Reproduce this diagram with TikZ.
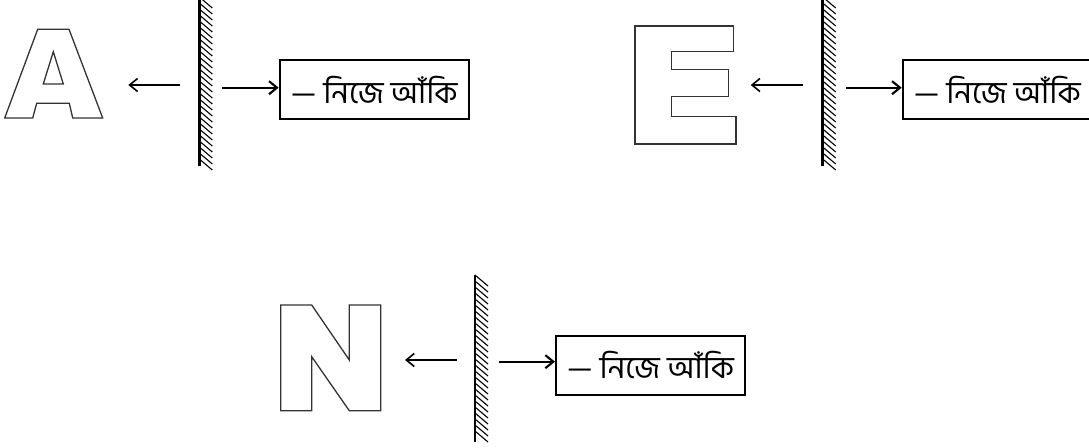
\documentclass[tikz,border=0pt]{standalone}
\usepackage{fontspec}
\newfontfamily\bnfont[Script=Bengali]{Hind Siliguri}
\usetikzlibrary{arrows.meta}
\tikzset{
 outline/.style={draw=black!80, line width=1.3pt, line join=miter},
 mirrorline/.style={line width=2.6pt},
 hatchline/.style={line width=1.1pt},
 larr/.style={line width=1.6pt, -{Straight Barb[length=8pt,width=13pt,line width=1.6pt]}},
 rarr/.style={line width=2.1pt, -{Straight Barb[length=8pt,width=13pt,line width=2.1pt]}},
 labelbox/.style={draw, line width=2pt, minimum width=189pt, minimum height=59pt, inner sep=0pt, font=\bnfont\fontsize{31}{36}\selectfont, anchor=west},
}
\begin{document}
\begin{tikzpicture}[x=1pt,y=-1pt]
\useasboundingbox (0,0) rectangle (1089,447);
% ---------- Panel A ----------
\draw[outline] (4.7,118) -- (37.7,29.3) -- (69,29.3) -- (102.7,118) -- (72.7,118) -- (69.3,103.3) -- (36.7,103.3) -- (32.7,118) -- cycle;
\draw[outline] (53.3,51.7) -- (43.3,84) -- (63.3,84) -- cycle;
\coordinate (m1) at (180,85);
\coordinate (a1) at (128.3,85);
\draw[larr] (m1) -- (a1);
\draw[mirrorline] (199.3,0) coordinate (mt1) -- (199.3,165.7) coordinate (mb1);
\foreach \y in {-3,3,...,159} \draw[hatchline] ([yshift=-\y pt]mt1) -- ++(13,11);
\node[labelbox] (b1) at (278.7,89.8) {— নিজে আঁকি};
\coordinate (r1) at (222.3,87.7);
\draw[rarr] (r1) -- (r1 -| b1.west);
% ---------- Panel E ----------
\draw[outline] (635,26) -- (733.3,26) -- (733.3,51.7) -- (671.7,51.7) -- (671.7,69.3) -- (728.3,69.3) -- (728.3,96.7) -- (671.7,96.7) -- (671.7,116.7) -- (736,116.7) -- (736,144) -- (635,144) -- cycle;
\coordinate (m2) at (803.3,85);
\coordinate (a2) at (750.7,85);
\draw[larr] (m2) -- (a2);
\draw[mirrorline] (822.7,0) coordinate (mt2) -- (822.7,165.7) coordinate (mb2);
\foreach \y in {-3,3,...,159} \draw[hatchline] ([yshift=-\y pt]mt2) -- ++(13,11);
\node[labelbox] (b2) at (901.7,89.8) {— নিজে আঁকি};
\coordinate (r2) at (846,87.7);
\draw[rarr] (r2) -- (r2 -| b2.west);
% ---------- Panel N ----------
\draw[outline] (280.7,305) -- (311.7,305) -- (349.3,360) -- (349.3,305) -- (380.7,305) -- (380.7,410.7) -- (349.3,410.7) -- (311.7,356.7) -- (311.7,410.7) -- (280.7,410.7) -- cycle;
\coordinate (m3) at (456.7,360);
\coordinate (a3) at (405,360);
\draw[larr] (m3) -- (a3);
\draw[mirrorline] (475,275) coordinate (mt3) -- (475,441.7) coordinate (mb3);
\foreach \y in {0,6,...,160} \draw[hatchline] ([yshift=-\y pt]mt3) -- ++(13,11);
\node[labelbox] (b3) at (555,365) {— নিজে আঁকি};
\coordinate (r3) at (499.3,361.7);
\draw[rarr] (r3) -- (r3 -| b3.west);
\end{tikzpicture}
\end{document}
